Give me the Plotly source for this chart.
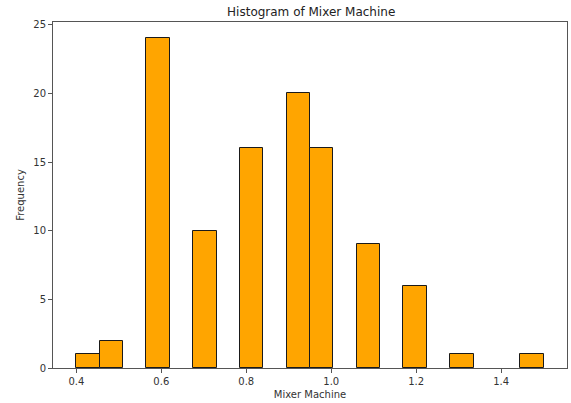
import plotly.graph_objects as go

# Histogram data (matplotlib-style 20 bins from 0.4 to 1.5)
bin_start = 0.4
bin_width = 0.055
counts = [1, 2, 0, 24, 0, 10, 0, 16, 0, 20, 16, 0, 9, 0, 6, 0, 1, 0, 0, 1]
x_ticks = [0.4, 0.6, 0.8, 1.0, 1.2, 1.4]
x_tick_labels = ["0.4", "0.6", "0.8", "1.0", "1.2", "1.4"]
y_ticks = [0, 5, 10, 15, 20, 25]

left_edges = [bin_start + i * bin_width for i in range(len(counts))]
edge_widths = [1 if c > 0 else 0 for c in counts]

fig = go.Figure(go.Bar(
    x=left_edges,
    y=counts,
    width=[bin_width] * len(counts),
    offset=0,
    marker=dict(color="#FFA500", line=dict(color="#1a1a1a", width=edge_widths)),
))

font = "DejaVu Sans"
axis_common = dict(
    showgrid=False, zeroline=False, showline=True, mirror=True,
    linecolor="#555555", linewidth=1, ticks="outside", ticklen=4,
    tickcolor="#555555", tickfont=dict(family=font, size=10, color="#333333"),
)

fig.update_layout(
    width=571, height=403,
    margin=dict(l=53, r=4, t=22, b=35),
    paper_bgcolor="white", plot_bgcolor="white",
    showlegend=False,
    title=dict(text="Histogram of Mixer Machine", x=0.545, xanchor="center",
               y=0.97, yanchor="middle",
               font=dict(family=font, size=12, color="#222222")),
    xaxis=dict(range=[0.345, 1.555], tickvals=x_ticks, ticktext=x_tick_labels,
               title=dict(text="Mixer Machine", standoff=4,
                          font=dict(family=font, size=10, color="#333333")),
               **axis_common),
    yaxis=dict(range=[0, 25.2], tickvals=y_ticks,
               title=dict(text="Frequency", standoff=6,
                          font=dict(family=font, size=10, color="#333333")),
               **axis_common),
    bargap=0,
)

fig.write_html("out.html")
